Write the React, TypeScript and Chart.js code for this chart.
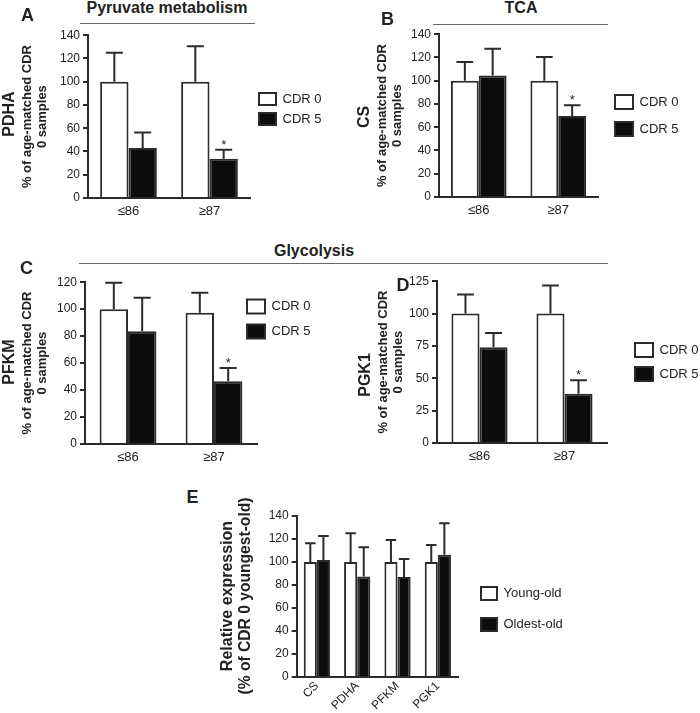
import { useEffect, useRef } from "react";
import { Chart, registerables } from "chart.js";

Chart.register(...registerables);

const FONT = "'Liberation Sans', Arial, Helvetica, sans-serif";
const INK = "#222222";
const AXIS = "#2b2b2b";
const BLACK_BAR = "#0d0d0d";
const WHITE_BAR = "#ffffff";
const RULE = "#6a6a6a";

Chart.defaults.font.family = FONT;
Chart.defaults.color = INK;

// ---------------- data ----------------
const ageGroups = ["≤86", "≥87"];
const cdrSeries = ["CDR 0", "CDR 5"];

const pdhaCdr0 = [100, 100];
const pdhaCdr0Err = [25, 30.5];
const pdhaCdr5 = [43, 33.7];
const pdhaCdr5Err = [13.3, 7.7];
const pdhaCdr5Sig = [false, true];

const csCdr0 = [100, 100];
const csCdr0Err = [16, 20.5];
const csCdr5 = [104.5, 69.6];
const csCdr5Err = [23, 9.2];
const csCdr5Sig = [false, true];

const pfkmCdr0 = [100, 97.3];
const pfkmCdr0Err = [19.5, 14.8];
const pfkmCdr5 = [83.6, 46.5];
const pfkmCdr5Err = [24.8, 9.9];
const pfkmCdr5Sig = [false, true];

const pgk1Cdr0 = [100, 100];
const pgk1Cdr0Err = [14.7, 21.7];
const pgk1Cdr5 = [74, 38.1];
const pgk1Cdr5Err = [10.9, 10.3];
const pgk1Cdr5Sig = [false, true];

const genes = ["CS", "PDHA", "PFKM", "PGK1"];
const ageSeries = ["Young-old", "Oldest-old"];
const youngOld = [100, 100, 100, 100];
const youngOldErr = [16.3, 25, 19.2, 14.8];
const oldestOld = [101.8, 87.3, 87, 106.2];
const oldestOldErr = [20.9, 25.5, 15.7, 27.5];
const noSig = [false, false, false, false];

const yMaxA = 140, yStepA = 20;
const yMaxB = 140, yStepB = 20;
const yMaxC = 120, yStepC = 20;
const yMaxD = 125, yStepD = 25;
const yMaxE = 140, yStepE = 20;

const cdrAxisTitle = ["% of age-matched CDR", "0 samples"];
const eAxisTitle = ["Relative expression", "(% of CDR 0 youngest-old)"];

// ---------------- chart building ----------------
type Series = { label: string; data: number[]; errors: number[]; sig: boolean[]; fill: string };

type PanelSpec = {
  box: { left: number; top: number; width: number; height: number };
  padding: { left: number; right: number; top: number; bottom: number };
  labels: string[];
  series: Series[];
  yMax: number;
  yStep: number;
  yWidth: number;
  xHeight: number;
  xFont: number;
  xPad: number;
  xRotation: number;
  title: string | string[];
  titleSize: number;
  titleLineHeight: number;
  titleCenterY: number;
  axisTitle: string[] | null;
  legend: { x: number; y: number; boxWidth: number; boxHeight: number; gap: number };
  categoryPercentage: number;
  capRatio: number;
};

function buildConfig(spec: PanelSpec): any {
  const placement = {
    id: "placement",
    afterLayout(chart: any) {
      const lg = chart.legend;
      if (lg) {
        const p = lg.options.labels.padding;
        const h = lg.height;
        lg.left = spec.legend.x - p;
        lg.width = 200;
        lg.right = lg.left + 200;
        lg.top = spec.legend.y - p;
        lg.bottom = lg.top + h;
      }
      const tb = chart.titleBlock;
      if (tb) {
        const h = tb.bottom - tb.top;
        tb.top = spec.titleCenterY - h / 2;
        tb.bottom = tb.top + h;
      }
    },
  };

  const errorBars = {
    id: "errorBars",
    afterDatasetsDraw(chart: any) {
      const ctx = chart.ctx;
      const yScale = chart.scales.y;
      chart.data.datasets.forEach((ds: any, di: number) => {
        const meta = chart.getDatasetMeta(di);
        meta.data.forEach((bar: any, i: number) => {
          const topY = yScale.getPixelForValue(ds.data[i] + ds.errors[i]);
          const half = bar.width * spec.capRatio;
          ctx.save();
          ctx.strokeStyle = AXIS;
          ctx.lineWidth = 2;
          ctx.beginPath();
          ctx.moveTo(bar.x, bar.y);
          ctx.lineTo(bar.x, topY);
          ctx.moveTo(bar.x - half, topY);
          ctx.lineTo(bar.x + half, topY);
          ctx.stroke();
          if (ds.sig && ds.sig[i]) {
            ctx.fillStyle = INK;
            ctx.font = `13px ${FONT}`;
            ctx.textAlign = "center";
            ctx.textBaseline = "alphabetic";
            ctx.fillText("*", bar.x, topY - 1);
          }
          ctx.restore();
        });
      });
    },
  };

  return {
    type: "bar",
    data: {
      labels: spec.labels,
      datasets: spec.series.map((s) => ({
        label: s.label,
        data: s.data,
        errors: s.errors,
        sig: s.sig,
        backgroundColor: s.fill,
        borderColor: AXIS,
        borderWidth: 2,
        borderSkipped: "start",
        categoryPercentage: spec.categoryPercentage,
        barPercentage: 1,
      })),
    },
    options: {
      responsive: false,
      animation: false,
      devicePixelRatio: 1,
      layout: { padding: spec.padding },
      events: [],
      scales: {
        x: {
          grid: { display: false, drawTicks: false },
          border: { display: true, color: AXIS, width: 2 },
          ticks: {
            color: INK,
            font: { size: spec.xFont },
            padding: spec.xPad,
            minRotation: spec.xRotation,
            maxRotation: spec.xRotation,
            autoSkip: false,
          },
          afterFit: (s: any) => {
            s.height = spec.xHeight;
          },
        },
        y: {
          min: 0,
          max: spec.yMax,
          ticks: { stepSize: spec.yStep, color: INK, font: { size: 12 }, padding: 3 },
          grid: {
            display: true,
            drawOnChartArea: false,
            drawTicks: true,
            tickLength: 5,
            color: AXIS,
            lineWidth: 2,
          },
          border: { display: true, color: AXIS, width: 2 },
          title: spec.axisTitle
            ? {
                display: true,
                text: spec.axisTitle,
                color: INK,
                font: { size: 13, weight: "bold", lineHeight: 1.2 },
                padding: 0,
              }
            : { display: false },
          afterFit: (s: any) => {
            s.width = spec.yWidth;
          },
        },
      },
      plugins: {
        tooltip: { enabled: false },
        title: {
          display: true,
          position: "left",
          text: spec.title,
          color: INK,
          font: { size: spec.titleSize, weight: "bold", lineHeight: spec.titleLineHeight },
          padding: 0,
        },
        legend: {
          display: true,
          position: "right",
          align: "start",
          maxWidth: 40,
          labels: {
            boxWidth: spec.legend.boxWidth,
            boxHeight: spec.legend.boxHeight,
            padding: spec.legend.gap,
            color: INK,
            font: { size: 13 },
          },
        },
      },
    },
    plugins: [errorBars, placement],
  };
}

function cdrSeriesList(c0: number[], c0e: number[], c5: number[], c5e: number[], sig: boolean[]): Series[] {
  return [
    { label: cdrSeries[0], data: c0, errors: c0e, sig: [false, false], fill: WHITE_BAR },
    { label: cdrSeries[1], data: c5, errors: c5e, sig, fill: BLACK_BAR },
  ];
}

const panelA: PanelSpec = {
  box: { left: 0, top: 25, width: 325, height: 200 },
  padding: { left: 0, right: 35, top: 10, bottom: 0 },
  labels: ageGroups,
  series: cdrSeriesList(pdhaCdr0, pdhaCdr0Err, pdhaCdr5, pdhaCdr5Err, pdhaCdr5Sig),
  yMax: yMaxA,
  yStep: yStepA,
  yWidth: 68.8,
  xHeight: 27,
  xFont: 13,
  xPad: 6,
  xRotation: 0,
  title: "PDHA",
  titleSize: 16,
  titleLineHeight: 1.2,
  titleCenterY: 89,
  axisTitle: cdrAxisTitle,
  legend: { x: 259, y: 67.5, boxWidth: 17, boxHeight: 12, gap: 7 },
  categoryPercentage: 0.7,
  capRatio: 0.3,
};

const panelB: PanelSpec = {
  box: { left: 355, top: 24, width: 330, height: 200 },
  padding: { left: 0, right: 47, top: 10, bottom: 0 },
  labels: ageGroups,
  series: cdrSeriesList(csCdr0, csCdr0Err, csCdr5, csCdr5Err, csCdr5Sig),
  yMax: yMaxB,
  yStep: yStepB,
  yWidth: 64.8,
  xHeight: 27,
  xFont: 13,
  xPad: 6,
  xRotation: 0,
  title: "CS",
  titleSize: 16,
  titleLineHeight: 1.2,
  titleCenterY: 93,
  axisTitle: cdrAxisTitle,
  legend: { x: 260, y: 71, boxWidth: 18, boxHeight: 14, gap: 13 },
  categoryPercentage: 0.7,
  capRatio: 0.3,
};

const panelC: PanelSpec = {
  box: { left: 0, top: 272, width: 320, height: 199 },
  padding: { left: 0, right: 23, top: 10, bottom: 0 },
  labels: ageGroups,
  series: cdrSeriesList(pfkmCdr0, pfkmCdr0Err, pfkmCdr5, pfkmCdr5Err, pfkmCdr5Sig),
  yMax: yMaxC,
  yStep: yStepC,
  yWidth: 65.8,
  xHeight: 27,
  xFont: 13,
  xPad: 6,
  xRotation: 0,
  title: "PFKM",
  titleSize: 16,
  titleLineHeight: 1.2,
  titleCenterY: 90,
  axisTitle: cdrAxisTitle,
  legend: { x: 247, y: 27.5, boxWidth: 18, boxHeight: 14, gap: 11 },
  categoryPercentage: 0.66,
  capRatio: 0.3,
};

const panelD: PanelSpec = {
  box: { left: 356, top: 271, width: 344, height: 199 },
  padding: { left: 0, right: 53, top: 10, bottom: 0 },
  labels: ageGroups,
  series: cdrSeriesList(pgk1Cdr0, pgk1Cdr0Err, pgk1Cdr5, pgk1Cdr5Err, pgk1Cdr5Sig),
  yMax: yMaxD,
  yStep: yStepD,
  yWidth: 61.8,
  xHeight: 27,
  xFont: 13,
  xPad: 6,
  xRotation: 0,
  title: "PGK1",
  titleSize: 16,
  titleLineHeight: 1.2,
  titleCenterY: 104,
  axisTitle: cdrAxisTitle,
  legend: { x: 279, y: 72, boxWidth: 18, boxHeight: 14, gap: 10 },
  categoryPercentage: 0.66,
  capRatio: 0.3,
};

const panelE: PanelSpec = {
  box: { left: 210, top: 496, width: 360, height: 217 },
  padding: { left: 8, right: 72, top: 20, bottom: 0 },
  labels: genes,
  series: [
    { label: ageSeries[0], data: youngOld, errors: youngOldErr, sig: noSig, fill: WHITE_BAR },
    { label: ageSeries[1], data: oldestOld, errors: oldestOldErr, sig: noSig, fill: BLACK_BAR },
  ],
  yMax: yMaxE,
  yStep: yStepE,
  yWidth: 41.9,
  xHeight: 36,
  xFont: 12,
  xPad: 2,
  xRotation: 45,
  title: eAxisTitle,
  titleSize: 16,
  titleLineHeight: 1.15,
  titleCenterY: 100,
  axisTitle: null,
  legend: { x: 271, y: 91, boxWidth: 16, boxHeight: 13, gap: 18 },
  categoryPercentage: 0.65,
  capRatio: 0.4,
};

function Panel({ spec }: { spec: PanelSpec }) {
  const ref = useRef<HTMLCanvasElement | null>(null);
  useEffect(() => {
    if (!ref.current) return;
    const chart = new Chart(ref.current, buildConfig(spec));
    return () => chart.destroy();
  }, [spec]);
  const b = spec.box;
  return (
    <canvas
      ref={ref}
      width={b.width}
      height={b.height}
      style={{ position: "absolute", left: b.left, top: b.top, width: b.width, height: b.height }}
    />
  );
}

function Text({ x, y, text, size }: { x: number; y: number; text: string; size: number }) {
  return (
    <div
      style={{
        position: "absolute",
        left: x,
        top: y,
        transform: "translate(-50%, -50%)",
        font: `bold ${size}px ${FONT}`,
        color: INK,
        whiteSpace: "nowrap",
        lineHeight: 1.15,
      }}
    >
      {text}
    </div>
  );
}

function Rule({ x, y, w }: { x: number; y: number; w: number }) {
  return <div style={{ position: "absolute", left: x, top: y, width: w, height: 0, borderTop: `1px solid ${RULE}` }} />;
}

export default function App() {
  return (
    <div
      style={{
        position: "absolute",
        left: 0,
        top: 0,
        width: 700,
        height: 713,
        background: "#ffffff",
        overflow: "hidden",
      }}
    >
      <Panel spec={panelA} />
      <Panel spec={panelB} />
      <Panel spec={panelC} />
      <Panel spec={panelD} />
      <Panel spec={panelE} />

      <Text x={167} y={8} text="Pyruvate metabolism" size={16} />
      <Rule x={80} y={23} w={175} />
      <Text x={521} y={8} text="TCA" size={16} />
      <Rule x={433} y={24} w={175} />
      <Text x={314} y={251} text="Glycolysis" size={16} />
      <Rule x={79} y={263} w={529} />

      <Text x={27.5} y={15} text="A" size={18} />
      <Text x={387.5} y={19} text="B" size={18} />
      <Text x={26.5} y={268} text="C" size={18} />
      <Text x={403} y={285} text="D" size={18} />
      <Text x={192.5} y={497} text="E" size={18} />
    </div>
  );
}
